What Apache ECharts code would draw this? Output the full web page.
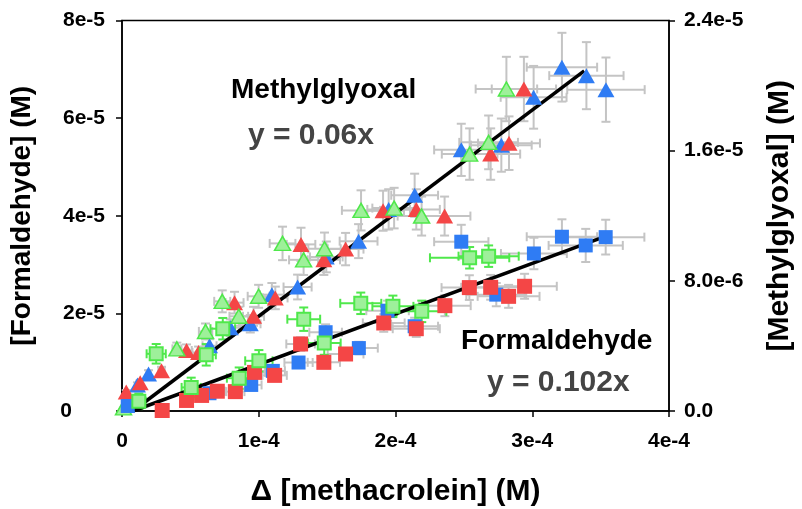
<!DOCTYPE html>
<html>
<head>
<meta charset="utf-8">
<script src="https://cdn.jsdelivr.net/npm/echarts@6/dist/echarts.min.js"></script>
<style>
html,body{margin:0;padding:0;background:#fff;}
#chart{width:802px;height:509px;}
</style>
</head>
<body>
<div id="chart"></div>
<script>
// ---- data (M) ----
// Methylglyoxal (triangles, right axis)
const triBlueX = [3.3e-6, 1.13e-5, 1.94e-5, 6.40e-5, 7.92e-5, 9.38e-5, 1.096e-4, 1.284e-4, 1.494e-4, 1.730e-4, 1.950e-4, 2.140e-4, 2.481e-4, 2.774e-4, 3.010e-4, 3.217e-4, 3.396e-4, 3.539e-4];
const triBlueY = [3.7e-7, 1.60e-6, 2.28e-6, 4.01e-6, 5.12e-6, 5.36e-6, 7.15e-6, 7.62e-6, 9.47e-6, 1.044e-5, 1.239e-5, 1.326e-5, 1.605e-5, 1.634e-5, 1.928e-5, 2.113e-5, 2.061e-5, 1.975e-5];
const triRedX = [3.1e-6, 1.33e-5, 2.89e-5, 4.72e-5, 5.60e-5, 8.23e-5, 9.62e-5, 1.121e-4, 1.309e-4, 1.476e-4, 1.635e-4, 1.909e-4, 2.152e-4, 2.359e-4, 2.696e-4, 2.830e-4, 2.939e-4];
const triRedY = [1.17e-6, 1.73e-6, 2.47e-6, 3.72e-6, 3.60e-6, 6.66e-6, 5.82e-6, 6.95e-6, 1.024e-5, 9.29e-6, 9.95e-6, 1.231e-5, 1.239e-5, 1.198e-5, 1.579e-5, 1.646e-5, 1.979e-5];
const triGreenX = [1.1e-6, 4.01e-5, 6.11e-5, 7.33e-5, 8.54e-5, 9.99e-5, 1.174e-4, 1.328e-4, 1.481e-4, 1.748e-4, 1.990e-4, 2.191e-4, 2.542e-4, 2.681e-4, 2.811e-4];
const triGreenY = [1.9e-7, 3.82e-6, 4.89e-6, 6.74e-6, 5.82e-6, 7.05e-6, 1.030e-5, 9.29e-6, 9.97e-6, 1.233e-5, 1.247e-5, 1.198e-5, 1.579e-5, 1.651e-5, 1.979e-5];
// Formaldehyde (squares, left axis)
const sqBlueX = [4.2e-6, 6.40e-5, 9.45e-5, 1.103e-4, 1.291e-4, 1.489e-4, 1.732e-4, 1.942e-4, 2.140e-4, 2.481e-4, 2.737e-4, 3.012e-4, 3.217e-4, 3.391e-4, 3.537e-4];
const sqBlueY = [1.03e-6, 3.64e-6, 5.34e-6, 8.22e-6, 9.93e-6, 1.614e-5, 1.289e-5, 2.055e-5, 1.737e-5, 3.468e-5, 2.384e-5, 3.227e-5, 3.570e-5, 3.392e-5, 3.562e-5];
const sqRedX = [2.94e-5, 4.72e-5, 5.82e-5, 6.97e-5, 8.29e-5, 9.69e-5, 1.116e-4, 1.306e-4, 1.476e-4, 1.635e-4, 1.914e-4, 2.152e-4, 2.361e-4, 2.540e-4, 2.696e-4, 2.827e-4, 2.944e-4];
const sqRedY = [1.0e-7, 2.16e-6, 3.19e-6, 4.05e-6, 3.97e-6, 7.91e-6, 7.30e-6, 1.373e-5, 9.97e-6, 1.168e-5, 1.803e-5, 1.686e-5, 2.158e-5, 2.528e-5, 2.534e-5, 2.349e-5, 2.555e-5];
const sqGreenX = [1.23e-5, 2.50e-5, 5.06e-5, 6.16e-5, 7.37e-5, 8.57e-5, 1.001e-4, 1.329e-4, 1.479e-4, 1.746e-4, 1.981e-4, 2.192e-4, 2.542e-4, 2.681e-4];
const sqGreenY = [1.99e-6, 1.172e-5, 4.83e-6, 1.151e-5, 1.686e-5, 6.72e-6, 1.028e-5, 1.881e-5, 1.392e-5, 2.206e-5, 2.144e-5, 2.041e-5, 3.139e-5, 3.172e-5];
const sqGreenXErr = [5e-6, 7e-6, 7e-6, 7e-6, 9e-6, 9e-6, 1.0e-5, 1.2e-5, 1.2e-5, 1.5e-5, 1.5e-5, 1.8e-5, 2.9e-5, 2.2e-5];
const sqGreenYErr = [1.6e-6, 2.0e-6, 2.0e-6, 2.2e-6, 2.2e-6, 2.2e-6, 2.2e-6, 2.4e-6, 2.4e-6, 2.2e-6, 2.2e-6, 2.2e-6, 2.2e-6, 2.2e-6];
// percentage error bars (grey)
const ERR_X_PCT = 8;
const ERR_Y_PCT = 10;
// fitted lines
const fitMgX = [8e-6, 3.38e-4];
const fitMgY = [0, 2.09e-5];
const fitFaX = [8e-6, 3.49e-4];
const fitFaY = [0, 3.53e-5];
// tick labels
const xTickLabels = ['0', '1e-4', '2e-4', '3e-4', '4e-4'];
const yLeftTickLabels = ['0', '2e-5', '4e-5', '6e-5', '8e-5'];
const yRightTickLabels = ['0.0', '8.0e-6', '1.6e-5', '2.4e-5'];

const FONT = "'Liberation Sans', Arial, sans-serif";
const BLUE = '#2f7cf4', RED = '#f44646';
const GFILL = '#9ef09a', GEDGE = '#4fe84b';
const GREY = '#c4c4c4';

function pts(xs, ys) { return xs.map((x, i) => [x, ys[i]]); }
function pctErr(xs, ys) { return xs.map((x, i) => [x, ys[i], x * ERR_X_PCT / 100, ys[i] * ERR_Y_PCT / 100]); }
function absErr(xs, ys, ex, ey) { return xs.map((x, i) => [x, ys[i], ex[i], ey[i]]); }

function errRender(color) {
  return function (params, api) {
    const x = api.value(0), y = api.value(1), ex = api.value(2), ey = api.value(3);
    const l = api.coord([x - ex, y]), r = api.coord([x + ex, y]);
    const t = api.coord([x, y + ey]), b = api.coord([x, y - ey]);
    const cap = 4.5;
    const st = { stroke: color, lineWidth: 2 };
    const ln = (x1, y1, x2, y2) => ({ type: 'line', shape: { x1, y1, x2, y2 }, style: st });
    return {
      type: 'group',
      children: [
        ln(l[0], l[1], r[0], r[1]),
        ln(l[0], l[1] - cap, l[0], l[1] + cap),
        ln(r[0], r[1] - cap, r[0], r[1] + cap),
        ln(t[0], t[1], b[0], b[1]),
        ln(t[0] - cap, t[1], t[0] + cap, t[1]),
        ln(b[0] - cap, b[1], b[0] + cap, b[1])
      ]
    };
  };
}
function errSeries(data, yIdx, color, z) {
  return { type: 'custom', yAxisIndex: yIdx, data: data, renderItem: errRender(color),
    encode: { x: 0, y: 1 }, z: z, silent: true, clip: false };
}
function scat(data, yIdx, symbol, size, fill, edge, bw, z) {
  return { type: 'scatter', yAxisIndex: yIdx, data: data, symbol: symbol, symbolSize: size, z: z,
    itemStyle: { color: fill, borderColor: edge, borderWidth: bw, opacity: 1 }, silent: true };
}

const chart = echarts.init(document.getElementById('chart'), null, { renderer: 'canvas' });
const axisLbl = { fontFamily: FONT, fontWeight: 'bold', fontSize: 21, color: '#000' };
const nameStyle = { fontFamily: FONT, fontWeight: 'bold', fontSize: 28, color: '#000' };

chart.setOption({
  animation: false,
  backgroundColor: '#fff',
  grid: { left: 122, right: 133, top: 20.5, bottom: 98, containLabel: false, outerBoundsMode: 'none',
    show: true, borderColor: '#000', borderWidth: 1.5, backgroundColor: 'transparent' },
  xAxis: {
    type: 'value', min: 0, max: 4e-4, interval: 1e-4,
    axisLine: { show: true, lineStyle: { color: '#000', width: 1.5 } },
    axisTick: { show: true, inside: false, length: 6, lineStyle: { color: '#000', width: 1.5 } },
    splitLine: { show: false },
    axisLabel: Object.assign({ margin: 20, formatter: v => xTickLabels[Math.round(v / 1e-4)] }, axisLbl),
    name: 'Δ [methacrolein] (M)', nameLocation: 'middle', nameGap: 66,
    nameTextStyle: Object.assign({}, nameStyle, { fontSize: 30 })
  },
  yAxis: [
    {
      type: 'value', min: 0, max: 8e-5, interval: 2e-5, position: 'left',
      axisLine: { show: true, lineStyle: { color: '#000', width: 1.5 } },
      axisTick: { show: true, inside: false, length: 6, lineStyle: { color: '#000', width: 1.5 } },
      splitLine: { show: false },
      axisLabel: Object.assign({ margin: 17, formatter: v => {
        const i = Math.round(v / 2e-5);
        return i === 0 ? '{z|' + yLeftTickLabels[0] + '}' : yLeftTickLabels[i];
      }, rich: { z: { fontFamily: FONT, fontWeight: 'bold', fontSize: 21, color: '#000', padding: [0, 33, 0, 0] } } }, axisLbl),
      name: '[Formaldehyde] (M)', nameLocation: 'middle', nameRotate: 90, nameGap: 86, nameTextStyle: nameStyle
    },
    {
      type: 'value', min: 0, max: 2.4e-5, interval: 8e-6, position: 'right',
      axisLine: { show: true, lineStyle: { color: '#000', width: 1.5 } },
      axisTick: { show: true, inside: false, length: 6, lineStyle: { color: '#000', width: 1.5 } },
      splitLine: { show: false },
      axisLabel: Object.assign({ margin: 15, formatter: v => yRightTickLabels[Math.round(v / 8e-6)] }, axisLbl),
      name: '[Methylglyoxal] (M)', nameLocation: 'middle', nameRotate: 90, nameGap: 96,
      nameTextStyle: Object.assign({}, nameStyle, { fontSize: 30 })
    }
  ],
  series: [
    errSeries(pctErr(triBlueX, triBlueY), 1, GREY, 1),
    errSeries(pctErr(triRedX, triRedY), 1, GREY, 1),
    errSeries(pctErr(triGreenX, triGreenY), 1, GREY, 1),
    errSeries(pctErr(sqBlueX, sqBlueY), 0, GREY, 1),
    errSeries(pctErr(sqRedX, sqRedY), 0, GREY, 1),
    errSeries(absErr(sqGreenX, sqGreenY, sqGreenXErr, sqGreenYErr), 0, GEDGE, 1),
    { type: 'line', yAxisIndex: 1, data: pts(fitMgX, fitMgY), symbol: 'none', z: 2, silent: true,
      lineStyle: { color: '#000', width: 3.5 } },
    { type: 'line', yAxisIndex: 0, data: pts(fitFaX, fitFaY), symbol: 'none', z: 2, silent: true,
      lineStyle: { color: '#000', width: 3.5 } },
    scat(pts(triBlueX, triBlueY), 1, 'triangle', [17, 15], BLUE, BLUE, 0, 3),
    scat(pts(triRedX, triRedY), 1, 'triangle', [17, 15], RED, RED, 0, 3),
    scat(pts(triGreenX, triGreenY), 1, 'triangle', [16, 14], GFILL, GEDGE, 1.5, 3),
    scat(pts(sqBlueX, sqBlueY), 0, 'rect', [14, 14], BLUE, BLUE, 0, 4),
    scat(pts(sqRedX, sqRedY), 0, 'rect', [15, 15], RED, RED, 0, 4),
    scat(pts(sqGreenX, sqGreenY), 0, 'rect', [13, 13], GFILL, GEDGE, 2, 4)
  ],
  graphic: [
    { type: 'text', left: 231, top: 76, z: 10, style: { text: 'Methylglyoxal', font: 'bold 28px ' + FONT, fill: '#000' } },
    { type: 'text', left: 248, top: 121, z: 10, style: { text: 'y = 0.06x', font: 'bold 30px ' + FONT, fill: '#444' } },
    { type: 'text', left: 461, top: 327, z: 10, style: { text: 'Formaldehyde', font: 'bold 28px ' + FONT, fill: '#000' } },
    { type: 'text', left: 487, top: 368, z: 10, style: { text: 'y = 0.102x', font: 'bold 30px ' + FONT, fill: '#444' } }
  ]
});
</script>
</body>
</html>
